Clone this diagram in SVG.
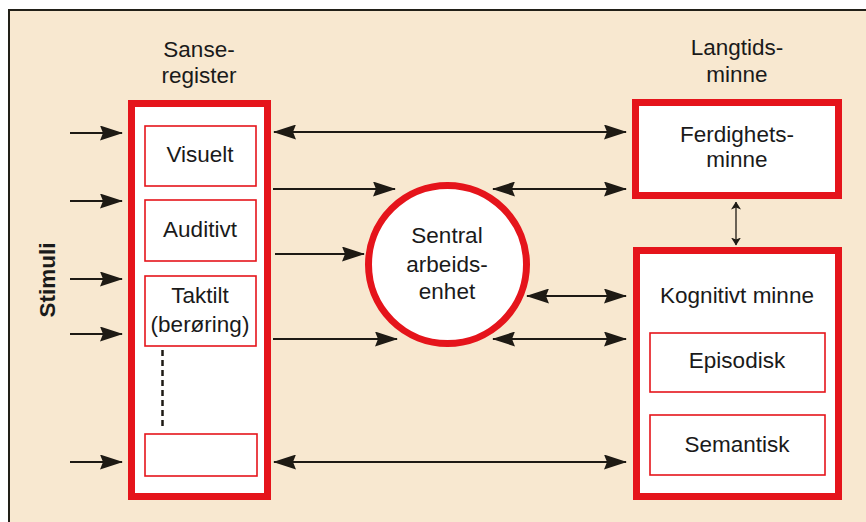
<svg xmlns="http://www.w3.org/2000/svg" width="866" height="522" viewBox="0 0 866 522">
  <defs>
    <marker id="ah" viewBox="0 0 23 15" refX="22" refY="7.5" markerWidth="23" markerHeight="15" markerUnits="userSpaceOnUse" orient="auto-start-reverse">
      <path d="M0,0 L23,7.5 L0,15 L3,7.5 Z" fill="#1e1a14"/>
    </marker>
    <marker id="ahs" viewBox="0 0 8 10" refX="7.5" refY="5" markerWidth="8" markerHeight="10" markerUnits="userSpaceOnUse" orient="auto-start-reverse">
      <path d="M0,0 L8,5 L0,10 L2,5 Z" fill="#1e1a14"/>
    </marker>
  </defs>
  <style>
    text { font-family: "Liberation Sans", Arial, sans-serif; font-size: 22.5px; fill: #1a1a1a; text-anchor: middle; }
    .big { fill: #ffffff; stroke: #e5141b; stroke-width: 7; }
    .inner { fill: #ffffff; stroke: #e5141b; stroke-width: 1.6; }
    .arr { stroke: #1e1a14; stroke-width: 2.2; fill: none; }
    .one { marker-end: url(#ah); }
    .two { marker-start: url(#ah); marker-end: url(#ah); }
  </style>

  <rect x="0" y="0" width="866" height="522" fill="#ffffff"/>
  <rect x="9" y="10" width="857" height="512" fill="#f8e8d0"/>
  <path d="M9,522 V10 H866" fill="none" stroke="#222018" stroke-width="2"/>

  <g id="stimuli-label">
    <text transform="translate(55,280) rotate(-90)" x="0" y="0" font-weight="bold" font-size="23">Stimuli</text>
  </g>

  <g id="sanseregister">
    <text x="199" y="57">Sanse-</text>
    <text x="199" y="83">register</text>
    <rect class="big" x="131.5" y="103.5" width="136" height="393"/>
  </g>
  <g id="visuelt">
    <rect class="inner" x="145" y="126" width="111" height="60"/>
    <text x="200" y="162">Visuelt</text>
  </g>
  <g id="auditivt">
    <rect class="inner" x="145" y="200" width="111" height="61"/>
    <text x="200" y="237">Auditivt</text>
  </g>
  <g id="taktilt">
    <rect class="inner" x="145" y="276" width="111" height="70"/>
    <text x="200" y="303">Taktilt</text>
    <text x="200" y="332">(berøring)</text>
  </g>
  <g id="dots">
    <line x1="162.5" y1="350" x2="162.5" y2="429" stroke="#1e1a14" stroke-width="2.5" stroke-dasharray="6 4"/>
  </g>
  <g id="tom">
    <rect class="inner" x="145" y="434" width="112" height="42"/>
  </g>

  <g id="sentral">
    <circle cx="447.5" cy="264.5" r="79" fill="#ffffff" stroke="#e5141b" stroke-width="7"/>
    <text x="447" y="243">Sentral</text>
    <text x="447" y="272">arbeids-</text>
    <text x="447" y="299">enhet</text>
  </g>

  <g id="langtid-label">
    <text x="737" y="55">Langtids-</text>
    <text x="737" y="82">minne</text>
  </g>
  <g id="ferdighet">
    <rect class="big" x="635.5" y="102.5" width="203" height="93"/>
    <text x="737" y="142">Ferdighets-</text>
    <text x="737" y="167">minne</text>
  </g>
  <g id="kognitivt">
    <rect class="big" x="636.5" y="250.5" width="202" height="246"/>
    <text x="737" y="303">Kognitivt minne</text>
  </g>
  <g id="episodisk">
    <rect class="inner" x="650" y="333" width="175" height="59"/>
    <text x="737" y="368">Episodisk</text>
  </g>
  <g id="semantisk">
    <rect class="inner" x="650" y="415" width="175" height="60"/>
    <text x="737" y="452">Semantisk</text>
  </g>

  <g id="connectors">
    <line class="arr one" x1="70" y1="133" x2="122" y2="133"/>
    <line class="arr one" x1="70" y1="201" x2="122" y2="201"/>
    <line class="arr one" x1="70" y1="279" x2="122" y2="279"/>
    <line class="arr one" x1="70" y1="334" x2="122" y2="334"/>
    <line class="arr one" x1="70" y1="462" x2="122" y2="462"/>

    <line class="arr two" x1="274" y1="132" x2="626" y2="132"/>
    <line class="arr one" x1="273" y1="189" x2="395" y2="189"/>
    <line class="arr two" x1="493" y1="189" x2="626" y2="189"/>
    <line class="arr one" x1="275" y1="254" x2="364" y2="254"/>
    <line class="arr two" x1="527" y1="296" x2="626" y2="296"/>
    <line class="arr one" x1="273" y1="339" x2="397" y2="339"/>
    <line class="arr two" x1="493" y1="339" x2="626" y2="339"/>
    <line class="arr two" x1="274" y1="462" x2="626" y2="462"/>

    <line stroke="#1e1a14" stroke-width="1.3" x1="736" y1="202" x2="736" y2="245" marker-start="url(#ahs)" marker-end="url(#ahs)"/>
  </g>
</svg>
